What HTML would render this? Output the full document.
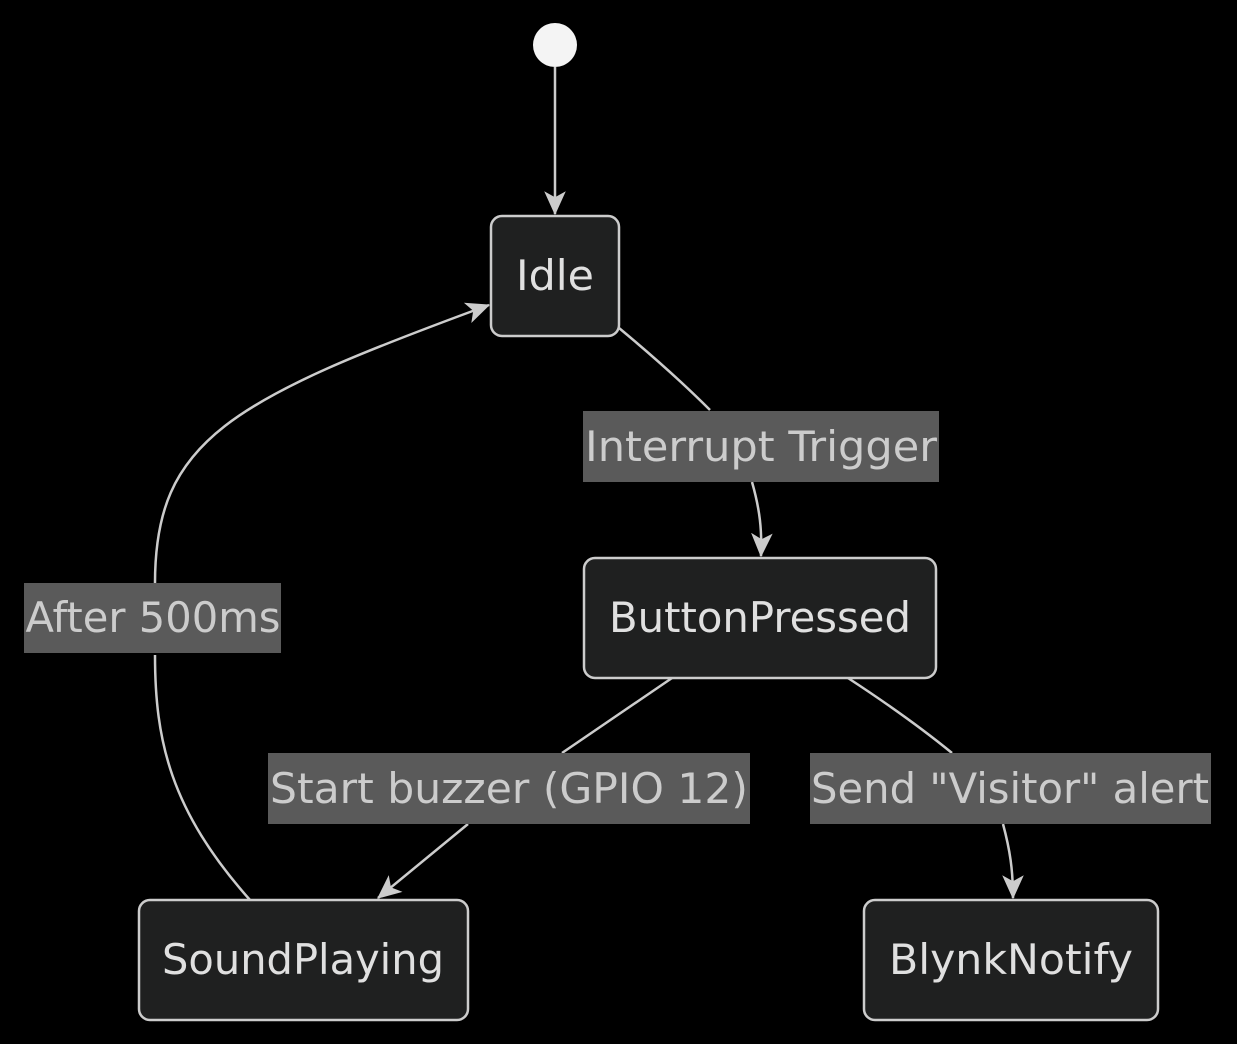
<!DOCTYPE html>
<html><head><style>html,body{margin:0;padding:0;background:#000;}svg{display:block}</style></head>
<body>
<svg width="1237" height="1044" viewBox="0 0 1237 1044" xmlns="http://www.w3.org/2000/svg" font-family="'DejaVu Sans','Liberation Sans',sans-serif">
<defs>
<marker id="a" viewBox="0 0 20 20" refX="19" refY="10" markerWidth="24" markerHeight="24" markerUnits="userSpaceOnUse" orient="auto">
<path d="M0,1 L20,10 L0,19 L5,10 z" fill="#cccccc"/>
</marker>
</defs>
<rect width="1237" height="1044" fill="#000"/>
<g fill="none" stroke="#cccccc" stroke-width="2.5">
<path d="M555,67 L555,214" marker-end="url(#a)"/>
<path d="M619,328 C660,362 690,390 710,410 M752,482 C760,510 762,530 761,556" marker-end="url(#a)"/>
<path d="M672,678 L562,753 M468,824 L378,898" marker-end="url(#a)"/>
<path d="M848,678 C900,712 930,735 952,753 M1003,824 C1010,850 1013,870 1013,898" marker-end="url(#a)"/>
<path d="M250,900 C170,810 155,740 155,655 M155,583 C155,440 230,400 489,305" marker-end="url(#a)"/>
</g>
<circle cx="555" cy="45" r="22" fill="#f4f4f4"/>
<g fill="#1f2020" stroke="#cccccc" stroke-width="2.5">
<rect x="491" y="216" width="128" height="120" rx="11"/>
<rect x="584" y="558" width="352" height="120" rx="11"/>
<rect x="139" y="900" width="329" height="120" rx="11"/>
<rect x="864" y="900" width="294" height="120" rx="11"/>
</g>
<g fill="#5a5a5a">
<rect x="583" y="411" width="356" height="71"/>
<rect x="24" y="583" width="257" height="70"/>
<rect x="268" y="753" width="482" height="71"/>
<rect x="810" y="753" width="401" height="71"/>
</g>
<g fill="#e0e0e0" font-size="42" text-anchor="middle">
<text x="555" y="290" textLength="78" lengthAdjust="spacingAndGlyphs">Idle</text>
<text x="760" y="632" textLength="302" lengthAdjust="spacingAndGlyphs">ButtonPressed</text>
<text x="303" y="974" textLength="282" lengthAdjust="spacingAndGlyphs">SoundPlaying</text>
<text x="1011" y="974" textLength="244" lengthAdjust="spacingAndGlyphs">BlynkNotify</text>
</g>
<g fill="#cccccc" font-size="42" text-anchor="middle">
<text x="761" y="461" textLength="352" lengthAdjust="spacingAndGlyphs">Interrupt Trigger</text>
<text x="153" y="632" textLength="255" lengthAdjust="spacingAndGlyphs">After 500ms</text>
<text x="509" y="803" textLength="478" lengthAdjust="spacingAndGlyphs">Start buzzer (GPIO 12)</text>
<text x="1010" y="803" textLength="398" lengthAdjust="spacingAndGlyphs">Send "Visitor" alert</text>
</g>
</svg>
</body></html>
